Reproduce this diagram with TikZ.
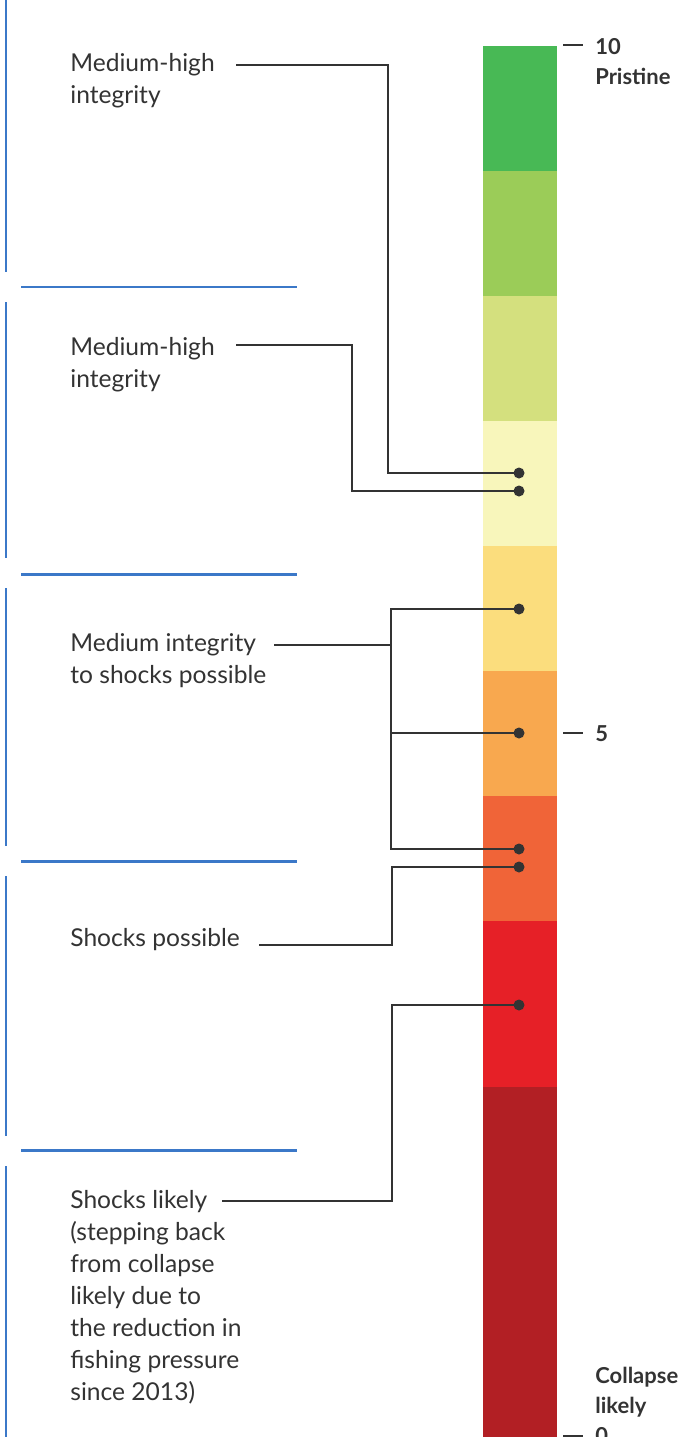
\documentclass[tikz,border=0pt]{standalone}
\usepackage{fontspec}
\setmainfont{Lato}
\usetikzlibrary{positioning}
\definecolor{ink}{HTML}{333333}
\definecolor{rule}{HTML}{3B78C8}
\definecolor{c10}{HTML}{48B955}
\definecolor{c9}{HTML}{9BCC58}
\definecolor{c8}{HTML}{D4E07E}
\definecolor{c7}{HTML}{F8F6BB}
\definecolor{c6}{HTML}{FBDD7D}
\definecolor{c5}{HTML}{F8A84F}
\definecolor{c4}{HTML}{F06438}
\definecolor{c3}{HTML}{E62027}
\definecolor{c2}{HTML}{B21F24}
\tikzset{
  tag/.style={anchor=north west,inner sep=0pt,align=left,text=ink,
              font=\fontsize{14pt}{18.2pt}\selectfont},
  scalelbl/.style={anchor=north west,inner sep=0pt,align=left,text=ink,
              font=\fontsize{12.5pt}{17pt}\selectfont\bfseries},
  lead/.style={draw=ink,line width=1.3pt},
  bead/.style={circle,fill=ink,inner sep=0pt,minimum size=0.22cm},
  divider/.style={draw=rule,line width=1.7pt},
  scaletick/.style={draw=ink,line width=0.7pt},
}

\begin{document}
\begin{tikzpicture}[x=0.02cm,y=-0.02cm]
  \useasboundingbox (0,0) rectangle (687,1437);

  % ---------- STUPAC ----------
  \fill[c10] (483,46)   rectangle (557,171);
  \fill[c9]  (483,171)  rectangle (557,296);
  \fill[c8]  (483,296)  rectangle (557,421);
  \fill[c7]  (483,421)  rectangle (557,546);
  \fill[c6]  (483,546)  rectangle (557,671);
  \fill[c5]  (483,671)  rectangle (557,796);
  \fill[c4]  (483,796)  rectangle (557,921);
  \fill[c3]  (483,921)  rectangle (557,1087);
  \fill[c2]  (483,1087) rectangle (557,1437);

  % ---------- SKALA ----------
  \draw[scaletick] (563,45) -- (583,45);
  \draw[scaletick] (563,733) -- (583,733);
  \draw[scaletick] (563,1436) -- (583,1436);
  \node[scalelbl] (top)  at (595,38)   {10\\Pristine};
  \node[scalelbl] (mid)  at (595,725)  {5};
  \node[scalelbl] (low)  at (595,1367) {Collapse\\likely\\0};

  % ---------- PODELE ----------
  \draw[divider] (6,0)    -- (6,272);
  \draw[divider] (6,302)  -- (6,558);
  \draw[divider] (6,588)  -- (6,846);
  \draw[divider] (6,876)  -- (6,1136);
  \draw[divider] (6,1166) -- (6,1437);
  \draw[divider] (21,287)  -- (297,287);
  \draw[divider] (21,574)  -- (297,574);
  \draw[divider] (21,861)  -- (297,861);
  \draw[divider] (21,1150) -- (297,1150);

  % ---------- OPISI ----------
  \node[tag] (t1) at (70,53)   {Medium-high\\integrity};
  \node[tag] (t2) at (70,337)  {Medium-high\\integrity};
  \node[tag] (t3) at (70,633)  {Medium integrity\\to shocks possible};
  \node[tag] (t4) at (70,928)  {Shocks possible};
  \node[tag] (t5) at (70,1190) {Shocks likely\\(stepping back\\from collapse\\likely due to\\the reduction in\\fishing pressure\\since 2013)};

  \coordinate (s1) at (236,65);
  \coordinate (s2) at (236,345);
  \coordinate (s3) at (274,645);
  \coordinate (s4) at (259,945);
  \coordinate (s5) at (222,1201);

  % ---------- TACKE ----------
  \coordinate (p1)  at (519,473);
  \coordinate (p2)  at (519,491);
  \coordinate (p3a) at (519,609);
  \coordinate (p3b) at (519,733);
  \coordinate (p3c) at (519,849);
  \coordinate (p4)  at (519,867);
  \coordinate (p5)  at (519,1005);

  % ---------- VEZE ----------
  \draw[lead] (s1) -- ++(152,0) |- (p1);
  \draw[lead] (s2) -- ++(116,0) |- (p2);
  \draw[lead] (s3) -- ++(117,0) coordinate (j3);
  \draw[lead] (p3a) -| (j3) |- (p3c);
  \draw[lead] (j3 |- p3b) -- (p3b);
  \draw[lead] (s4) -- ++(133,0) |- (p4);
  \draw[lead] (s5) -- ++(170,0) |- (p5);

  \node[bead] (b1)  at (p1)  {};
  \node[bead] (b2)  at (p2)  {};
  \node[bead] (b3a) at (p3a) {};
  \node[bead] (b3b) at (p3b) {};
  \node[bead] (b3c) at (p3c) {};
  \node[bead] (b4)  at (p4)  {};
  \node[bead] (b5)  at (p5)  {};

\end{tikzpicture}
\end{document}
